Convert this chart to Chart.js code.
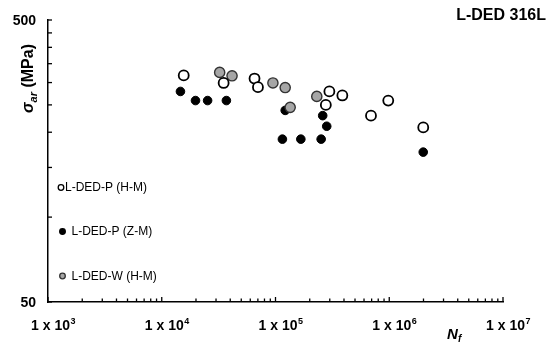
<!DOCTYPE html>
<html>
<head>
<meta charset="utf-8">
<script src="https://cdn.jsdelivr.net/npm/chart.js@4.4.1/dist/chart.umd.min.js"></script>
<style>
  body { margin: 0; background: #fff; }
  #wrap { width: 550px; height: 346px; }
</style>
</head>
<body>
<div id="wrap"><canvas id="myChart"></canvas></div>
<script>
// L-DED-P (H-M), open circles
const hmP_N = [15600, 35000, 65400, 70100, 297600, 387000, 277000, 691000, 980000, 1990000]
const hmP_S = [318, 299, 310, 289, 279, 270, 250, 229, 259, 208]
// L-DED-P (Z-M), black circles
const zmP_N = [14600, 19800, 25300, 37000, 121700, 260000, 282000, 115000, 167000, 252000, 1990000]
const zmP_S = [279, 259, 259, 259, 239, 229, 210, 189, 189, 189, 170]
// L-DED-W (H-M), grey circles
const hmW_N = [32300, 41500, 94900, 121700, 134600, 230700]
const hmW_S = [326, 317, 299, 288, 245, 268]

const seriesNames = ['L-DED-P (H-M)', 'L-DED-P (Z-M)', 'L-DED-W (H-M)']
const xDecades = [1e3, 1e4, 1e5, 1e6, 1e7]
const xExponents = ['3', '4', '5', '6', '7']
const yTickValues = [50, 100, 150, 200, 250, 300, 350, 400, 450, 500]
const yLabelValues = [50, 500]

function toPoints(xs, ys) {
  return xs.map(function (x, i) { return { x: x, y: ys[i] } })
}

const FONT = '"Liberation Sans", Arial, sans-serif'

// axis ticks (inside), tick labels, titles and the in-plot legend
const decorPlugin = {
  id: 'decor',
  afterDraw: function (chart) {
    var ctx = chart.ctx
    var xs = chart.scales.x, ys = chart.scales.y
    var area = chart.chartArea
    ctx.save()
    ctx.strokeStyle = '#000'
    ctx.lineWidth = 1.3

    // x ticks
    for (var k = 0; k < xDecades.length; k++) {
      var d = xDecades[k]
      var px = xs.getPixelForValue(d)
      ctx.beginPath(); ctx.moveTo(px, area.bottom); ctx.lineTo(px, area.bottom - 5); ctx.stroke()
      if (k < xDecades.length - 1) {
        for (var m = 2; m <= 9; m++) {
          var mx = xs.getPixelForValue(d * m)
          ctx.beginPath(); ctx.moveTo(mx, area.bottom); ctx.lineTo(mx, area.bottom - 3.5); ctx.stroke()
        }
      }
    }
    // y ticks
    yTickValues.forEach(function (v) {
      var py = ys.getPixelForValue(v)
      ctx.beginPath(); ctx.moveTo(area.left, py); ctx.lineTo(area.left + 4, py); ctx.stroke()
    })

    ctx.fillStyle = '#000'
    // y labels
    ctx.font = 'bold 14px ' + FONT
    ctx.textAlign = 'right'
    ctx.textBaseline = 'middle'
    yLabelValues.forEach(function (v) {
      ctx.fillText(String(v), area.left - 12, ys.getPixelForValue(v) + 1)
    })

    // x labels: 1 x 10^n
    ctx.textBaseline = 'alphabetic'
    ctx.textAlign = 'left'
    xDecades.forEach(function (d, i) {
      var px = xs.getPixelForValue(d) + 5
      ctx.font = 'bold 14px ' + FONT
      var w1 = ctx.measureText('1 x 10').width
      ctx.font = 'bold 9px ' + FONT
      var w2 = ctx.measureText(xExponents[i]).width
      var x0 = px - (w1 + w2) / 2
      ctx.font = 'bold 14px ' + FONT
      ctx.fillText('1 x 10', x0, 330)
      ctx.font = 'bold 9px ' + FONT
      ctx.fillText(xExponents[i], x0 + w1 + 0.5, 324)
    })

    // x title N_f
    ctx.font = 'italic bold 15px ' + FONT
    ctx.fillText('N', 447, 339)
    ctx.font = 'italic bold 10px ' + FONT
    ctx.fillText('f', 458, 342)

    // y title sigma_ar (MPa)
    ctx.save()
    ctx.translate(33, 113)
    ctx.rotate(-Math.PI / 2)
    ctx.font = 'italic bold 16px ' + FONT
    ctx.fillText('\u03c3', 0, 0)
    var sw = ctx.measureText('\u03c3').width
    ctx.font = 'italic bold 11px ' + FONT
    ctx.fillText('ar', sw, 4)
    var aw = ctx.measureText('ar').width
    ctx.font = 'bold 16px ' + FONT
    ctx.fillText(' (MPa)', sw + aw, 0)
    ctx.restore()

    // title
    ctx.font = 'bold 16px ' + FONT
    ctx.textAlign = 'right'
    ctx.fillText('L-DED 316L', 546, 20)

    // legend inside the plot
    var legendY = [187.5, 231.5, 276]
    var markX = [61, 62.5, 62.5]
    var textX = [65, 71.5, 71.5]
    ctx.textAlign = 'left'
    ctx.textBaseline = 'middle'
    ctx.font = '12px ' + FONT
    chart.data.datasets.forEach(function (ds, i) {
      ctx.beginPath()
      ctx.arc(markX[i], legendY[i], 2.8, 0, Math.PI * 2)
      ctx.fillStyle = ds.backgroundColor
      ctx.fill()
      ctx.lineWidth = 1.3
      ctx.strokeStyle = ds.borderColor
      ctx.stroke()
      ctx.fillStyle = '#000'
      ctx.fillText(seriesNames[i], textX[i], legendY[i] + 0.5)
    })
    ctx.restore()
  }
}

var ctx = document.getElementById('myChart').getContext('2d')
var chart = new Chart(ctx, {
  type: 'scatter',
  data: {
    datasets: [{
      label: seriesNames[0],
      data: toPoints(hmP_N, hmP_S),
      backgroundColor: '#ffffff',
      borderColor: '#000000',
      borderWidth: 1.8,
      pointRadius: 5,
      order: 0
    }, {
      label: seriesNames[1],
      data: toPoints(zmP_N, zmP_S),
      backgroundColor: '#000000',
      borderColor: '#000000',
      borderWidth: 1,
      pointRadius: 4.3,
      order: 2
    }, {
      label: seriesNames[2],
      data: toPoints(hmW_N, hmW_S),
      backgroundColor: '#a6a6a6',
      borderColor: '#333333',
      borderWidth: 1.4,
      pointRadius: 5.1,
      order: 1
    }]
  },
  options: {
    responsive: true,
    maintainAspectRatio: false,
    animation: false,
    layout: { padding: { left: 40, right: 47, top: 20, bottom: 36 } },
    plugins: { legend: { display: false }, tooltip: { enabled: false } },
    elements: { point: { hoverRadius: 5 } },
    scales: {
      x: {
        type: 'logarithmic', min: 1e3, max: 1e7,
        ticks: { display: false },
        grid: { display: false },
        border: { display: true, color: '#000', width: 1.5 }
      },
      y: {
        type: 'logarithmic', min: 50, max: 500,
        ticks: { display: false },
        grid: { display: false },
        border: { display: true, color: '#000', width: 1.5 }
      }
    }
  },
  plugins: [decorPlugin]
})
</script>
</body>
</html>
